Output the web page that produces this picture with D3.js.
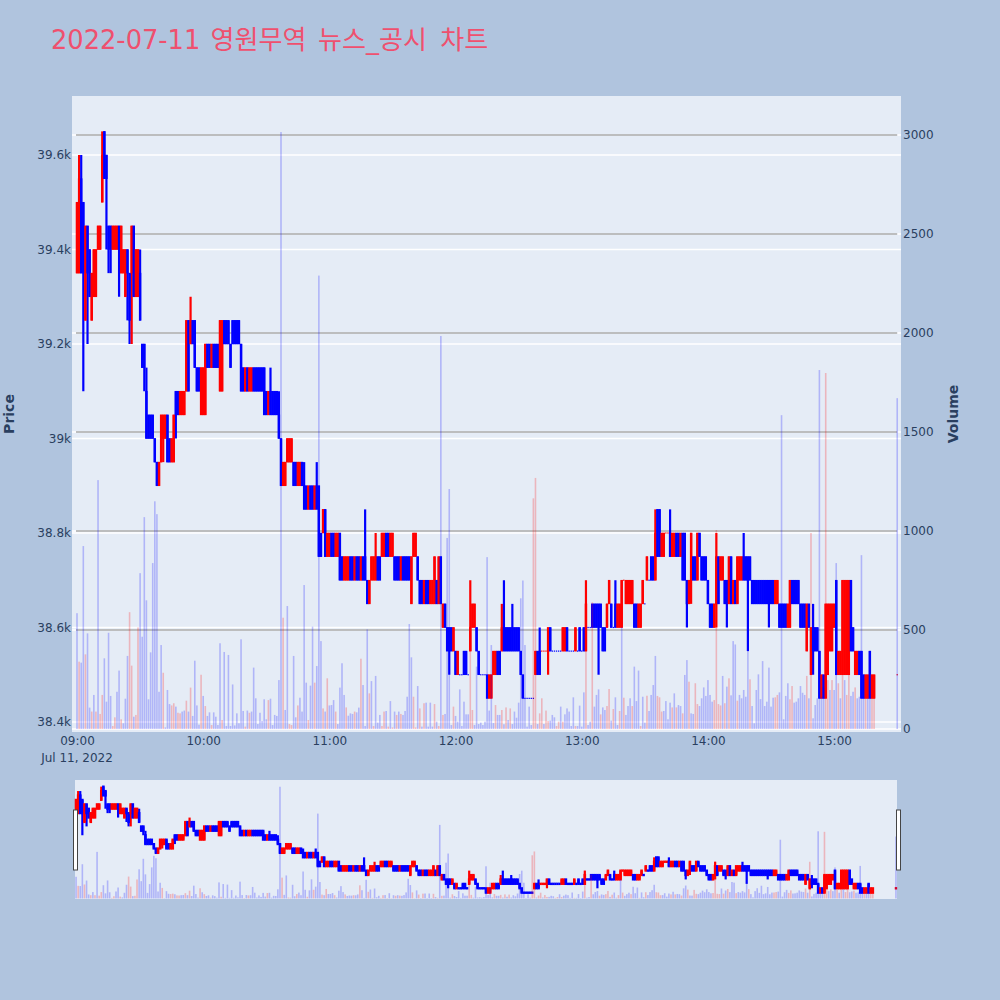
<!DOCTYPE html>
<html><head><meta charset="utf-8">
<script src="https://cdn.jsdelivr.net/npm/d3@7"></script>
<style>html,body{margin:0;padding:0;background:#B0C4DE}svg{display:block}text{font-family:"DejaVu Sans","Noto Sans CJK KR",sans-serif}</style>
</head><body><svg id="c" width="1000" height="1000"></svg>
<script>
const titleDate = "2022-07-11";
const titleWords = ["영원무역","뉴스_공시","차트"];
const titleWordGaps = [2,3,5];
const priceTicks = [38400,38600,38800,39000,39200,39400,39600];
const priceTickLabels = ["38.4k","38.6k","38.8k","39k","39.2k","39.4k","39.6k"];
const volumeTicks = [0,500,1000,1500,2000,2500,3000];
const greyLevels = [500,1000,1500,2000,2500,3000];
const gap = Array(10).fill(null);
const opens = [
39350,39350,39550,39500,39250,39450,39400,39250,39300,39300,39400,39400,39500,39650,39600,39450,39450,39400,39400,39400,
39450,39350,39350,39300,39400,39350,39350,39450,39300,39300,39350,39200,39200,39100,39050,39050,39050,39000,38950,38900,
38950,39000,39000,39050,39000,38950,38950,39100,39100,39050,39050,39050,39100,39250,39200,39250,39250,39150,39150,39050,
39050,39050,39200,39200,39150,39200,39200,39200,39100,39100,39250,39250,39250,39200,39250,39250,39250,39250,39200,39150,
39100,39150,39100,39100,39150,39150,39150,39150,39150,39150,39100,39050,39100,39100,39100,39100,39050,39000,38900,38900,
38950,38950,38950,38950,38950,38900,38900,38950,38900,38900,38850,38900,38900,38850,38900,38900,38800,38800,38850,38750,
38750,38800,38800,38750,38750,38800,38750,38700,38700,38700,38750,38750,38700,38750,38750,38700,38750,38750,38700,38650,
38700,38700,38700,38750,38750,38750,38750,38800,38800,38750,38750,38750,38750,38750,38700,38750,38750,38750,38750,38650,
38750,38750,38750,38700,38700,38650,38700,38700,38650,38650,38650,38700,38650,38750,38600,38650,38600,38600,38600,38550,
38550,38500,38500,38500,38550,38550,38500,38550,38600,38600,38600,38550,38500,38500,38500,38500,38450,38450,38500,38500,
38550,38550,38550,38600,38600,38600,38600,38600,38600,38600,38600,38550,38500,38450,38450,38450,38450,38450,38500,38550,
38550,38550,38550,38550,38550,38600,38550,38550,38550,38550,38550,38550,38550,38600,38550,38550,38550,38550,38550,38600,
38550,38600,38550,38600,38600,38650,38650,38650,38650,38650,38600,38600,38600,38650,38650,38600,38650,38600,38600,38600,
38700,38650,38650,38650,38650,38650,38650,38600,38600,38650,38650,38700,38700,38750,38750,38700,38850,38850,38750,38750,
38800,38800,38800,38750,38750,38800,38800,38750,38800,38800,38700,38650,38700,38750,38750,38700,38800,38750,38750,38750,
38700,38650,38650,38600,38650,38750,38700,38700,38700,38700,38650,38750,38650,38700,38650,38700,38700,38750,38750,38750,
38750,38700,38700,38700,38700,38700,38700,38700,38700,38700,38700,38700,38650,38650,38650,38650,38650,38650,38600,38600,
38700,38700,38700,38700,38650,38650,38650,38550,38650,38500,38600,38600,38600,38550,38450,38500,38450,38500,38550,38550,
38600,38700,38500,38500,38500,38500,38500,38500,38700,38600,38500,38500,38550,38550,38500,38450,38450,38550,38450,38450,
...gap,38500];
const closes = [
39500,39550,39350,39350,39450,39350,39300,39350,39400,39400,39450,39450,39600,39550,39550,39400,39400,39450,39450,39450,
39400,39450,39400,39400,39350,39250,39450,39300,39400,39400,39250,39150,39150,39000,39000,39000,39000,38950,38900,38950,
39050,39050,39050,38950,38950,39000,39050,39050,39050,39100,39100,39100,39250,39100,39250,39200,39150,39100,39100,39150,
39150,39200,39150,39150,39200,39150,39150,39150,39250,39250,39200,39200,39200,39150,39200,39200,39200,39200,39100,39100,
39150,39100,39150,39150,39100,39100,39100,39100,39100,39050,39050,39100,39050,39050,39050,39050,39000,38900,38950,38950,
39000,39000,39000,38900,38900,38950,38950,38900,38850,38850,38900,38850,38850,38900,38850,38750,38750,38850,38750,38800,
38800,38750,38750,38800,38800,38700,38700,38750,38750,38750,38700,38700,38750,38700,38700,38750,38700,38700,38650,38700,
38750,38750,38750,38700,38700,38800,38800,38750,38750,38800,38800,38700,38700,38700,38750,38700,38700,38700,38700,38750,
38800,38800,38700,38650,38650,38700,38650,38650,38700,38700,38750,38650,38750,38650,38650,38600,38550,38550,38550,38600,
38500,38550,38500,38500,38500,38500,38500,38600,38650,38650,38550,38500,38500,38500,38500,38450,38500,38500,38550,38550,
38500,38500,38600,38550,38550,38550,38550,38550,38550,38550,38550,38500,38450,38450,38450,38450,38450,38450,38550,38500,
38500,38550,38550,38550,38600,38550,38550,38550,38550,38550,38550,38600,38600,38550,38550,38550,38550,38600,38550,38550,
38550,38550,38650,38600,38600,38600,38600,38600,38600,38600,38550,38550,38650,38700,38600,38600,38600,38650,38650,38700,
38700,38700,38700,38700,38700,38600,38600,38650,38650,38700,38650,38750,38700,38700,38700,38800,38750,38750,38800,38800,
38800,38800,38750,38800,38800,38750,38750,38800,38700,38700,38650,38700,38800,38700,38700,38800,38750,38700,38700,38700,
38650,38600,38600,38650,38750,38650,38750,38750,38650,38650,38750,38650,38700,38650,38750,38750,38750,38700,38700,38700,
38700,38650,38650,38650,38650,38650,38650,38650,38650,38650,38650,38650,38700,38700,38600,38600,38600,38600,38650,38700,
38650,38650,38650,38650,38600,38600,38600,38650,38600,38600,38550,38550,38550,38450,38500,38450,38650,38650,38650,38650,
38650,38500,38550,38550,38700,38700,38700,38700,38550,38550,38550,38550,38500,38450,38450,38500,38500,38450,38500,38500,
...gap,38500];
const highMinutes = [1,2,12,30,33,54,92,96,108,114,137,142,187,202,203,207,220,242,256,275,282,304,317,350];
const highPrices = [39600,39600,39650,39400,39150,39300,39150,39100,38950,38950,38850,38800,38700,38650,38700,38650,38600,38700,38700,38850,38850,38800,38800,38650];
const lowMinutes = [3,5,14,15,16,20,24,25,26,32,41,47,177,224,248,290,292,304,309,319,329,350];
const lowPrices = [39100,39200,39400,39350,39350,39300,39250,39200,39200,39100,38950,39000,38500,38500,38500,38600,38650,38600,38600,38550,38600,38500];
const volumes = [
585,340,335,924,377,483,108,88,172,88,1257,76,172,357,138,486,167,15,59,188,
295,49,29,153,369,590,320,62,71,513,787,466,1070,650,150,387,838,1150,1085,188,
424,284,8,197,126,119,130,113,82,79,88,93,143,88,209,66,345,119,22,274,
167,116,66,84,20,84,62,20,433,45,389,15,374,15,225,18,79,29,453,91,
12,93,82,88,310,155,25,82,40,150,49,146,153,20,71,66,247,3015,562,96,
621,25,20,369,59,119,158,88,727,234,45,219,517,234,318,2290,444,104,88,256,
119,121,146,88,25,209,332,172,109,67,79,76,88,84,108,355,222,15,503,180,
242,15,268,32,71,15,88,91,12,141,8,88,71,88,76,71,91,163,530,362,
163,8,217,104,12,130,133,12,133,12,126,37,15,1985,71,76,965,1212,20,113,
66,37,200,15,138,74,74,520,96,20,315,25,32,20,37,868,93,424,30,121,
71,71,96,24,109,45,104,25,88,57,133,660,750,424,12,113,20,1165,1268,25,
79,155,25,93,40,42,71,59,15,37,113,37,74,104,88,15,160,15,15,118,
12,185,750,20,37,640,113,172,200,74,109,96,116,202,42,101,160,20,91,515,
158,71,116,155,116,315,141,295,15,163,32,168,91,172,222,369,167,160,88,91,
141,49,133,109,180,109,121,116,79,273,348,239,79,76,231,126,116,155,210,167,
247,172,138,146,1005,126,119,268,130,214,256,170,444,427,143,172,155,197,163,717,
251,116,29,197,276,151,343,116,138,310,113,158,160,172,185,1585,49,167,231,150,
217,133,138,155,217,183,172,268,155,990,54,121,155,1813,163,210,1798,247,197,247,
197,838,231,155,281,247,172,273,167,188,210,155,163,878,160,155,155,155,155,155,
...gap,1671];
const volumeColorCodes = (
"brbbrbbrbrbrrbbbbrrb"+"brbbbrrbrrbbbbbbbbbb"+"brbbbrrbrrbbrbrbbbbr"+"brbbrbbbbrbbbbbbbbbb"+
"rbrbbbbbbbbrbbbbbbrb"+"brrbbrbbbbrbbrbbbrbr"+"bbbrbbbbrbbbrbbrbbbr"+"brbbbrrbrbrbrbrbbbbb"+
"rrbrbrbbbbrbrbrbbbbr"+"bbbbbbbrrbbbbbbbbbbr"+"bbrbrbrbbbbbbbbbbrrb"+"rrbrrbbbrrbrbbbbbrbb"+
"bbrbbrbbbrbbrrbrbbrb"+"rbbbrbbbrbbrbbbbrrrb"+"bbbrbrbbrbbrbbrrbbbb"+"bbbrrrrbrbrbbbrbbbbb"+
"rbbbbbbbbbbbrrbbbbbr"+"rbbbbbbrbrbbbbbbrrbr"+"bbrbrbrrbbrbbbbrbbrr"+"bbbbbbbbbb"+"b").split("");

const n = opens.length;
const t0 = Date.UTC(2022,6,11,9,0);
const timeOf = m => new Date(t0 + m*60000);

const svg = d3.select("#c");
const paper = "#B0C4DE", plotBg = "#E5ECF6", ink = "#2a3f5f";
svg.append("rect").attr("width",1000).attr("height",1000).attr("fill",paper);

const x = d3.scaleUtc().domain([timeOf(-2.38), timeOf(391.8)]).range([72,901]);
const yP = d3.scaleLinear().domain([38378.8,39724.9]).range([732,96]);
const yV = d3.scaleLinear().domain([-15.2,3197]).range([732,96]);
const xS = d3.scaleUtc().domain([timeOf(-0.5), timeOf(390.5)]).range([75,897]);
const yPS = d3.scaleLinear().domain(yP.domain()).range([899,780]);
const yVS = d3.scaleLinear().domain(yV.domain()).range([899,780]);

const title = svg.append("text").attr("x",51).attr("y",49).attr("fill","#EF506E");
title.append("tspan").attr("font-size",25.7).text(titleDate);
titleWords.forEach((w,i)=>{
  title.append("tspan").attr("font-size",26.1).attr("dx",titleWordGaps[i]).text(" "+w);
});

svg.append("rect").attr("x",72).attr("y",96).attr("width",829).attr("height",636).attr("fill",plotBg);
svg.append("rect").attr("x",75).attr("y",780).attr("width",822).attr("height",119).attr("fill",plotBg);

const gGrid = svg.append("g");
gGrid.selectAll("line.p").data(priceTicks).join("line").attr("class","p").attr("x1",72).attr("x2",901)
  .attr("y1",d=>yP(d)).attr("y2",d=>yP(d)).attr("stroke","#fff").attr("stroke-width",1.6);
gGrid.selectAll("line.v").data(volumeTicks).join("line").attr("class","v").attr("x1",72).attr("x2",901)
  .attr("y1",d=>yV(d)).attr("y2",d=>yV(d)).attr("stroke","#fff").attr("stroke-width",1.6);
gGrid.selectAll("line.g").data(greyLevels).join("line").attr("class","g").attr("x1",x(timeOf(-0.5))).attr("x2",x(timeOf(390)))
  .attr("y1",d=>yV(d)).attr("y2",d=>yV(d)).attr("stroke","#808080").attr("stroke-width",1.1);

const dirs = [];
{ let last = "r", prev = null;
  for (let i=0;i<n;i++){ if(opens[i]==null){dirs.push(null);continue;}
    let d = closes[i]>opens[i]?"r":closes[i]<opens[i]?"b":(prev==null||closes[i]===prev?last:(closes[i]>prev?"r":"b"));
    dirs.push(d); last=d; prev=closes[i]; } }
const candleColor = {r:"#ff0000", b:"#0000ff"};
const highAt = i => { const k=highMinutes.indexOf(i); return k>=0?highPrices[k]:Math.max(opens[i],closes[i]); };
const lowAt = i => { const k=lowMinutes.indexOf(i); return k>=0?lowPrices[k]:Math.min(opens[i],closes[i]); };
const idx = d3.range(n).filter(i=>opens[i]!=null);

function traces(g, sx, py, vy, bodyW, wickW, pad, dojiW, dojiH){
  const gc = g.append("g");
  gc.selectAll("line").data(idx.filter(i=>highAt(i)!==lowAt(i))).join("line")
    .attr("x1",i=>sx(timeOf(i))).attr("x2",i=>sx(timeOf(i)))
    .attr("y1",i=>py(highAt(i))).attr("y2",i=>py(lowAt(i)))
    .attr("stroke",i=>candleColor[dirs[i]]).attr("stroke-width",wickW);
  gc.selectAll("rect").data(idx).join("rect")
    .attr("x",i=>sx(timeOf(i))-(opens[i]===closes[i]?dojiW/2:bodyW/2))
    .attr("width",i=>opens[i]===closes[i]?dojiW:bodyW)
    .attr("y",i=>py(Math.max(opens[i],closes[i]))-(opens[i]===closes[i]?dojiH/2:pad))
    .attr("height",i=>opens[i]===closes[i]?dojiH:Math.abs(py(opens[i])-py(closes[i]))+2*pad)
    .attr("fill",i=>candleColor[dirs[i]]);
  const gb = g.append("g");
  gb.selectAll("rect").data(idx).join("rect")
    .attr("x",i=>sx(timeOf(i))-0.8).attr("width",1.6)
    .attr("y",i=>vy(volumes[i])).attr("height",i=>vy(0)-vy(volumes[i]))
    .attr("fill",i=>volumeColorCodes[i]==="r"?"#ff0000":"#0000ff").attr("opacity",0.23);
}
traces(svg.append("g"), x, yP, yV, 2.4, 2.2, 0.3, 1.3, 1.2);
traces(svg.append("g"), xS, yPS, yVS, 2.6, 2.2, 1.1, 2.4, 2.4);

[[73.5,810],[896.5,810]].forEach(([hx,hy])=>{
  svg.append("rect").attr("x",hx).attr("y",hy).attr("width",4).attr("height",60)
    .attr("fill","#fff").attr("stroke","#444").attr("stroke-width",1);
});

function style(g){ g.select(".domain").remove(); g.selectAll("line").remove();
  g.selectAll("text").attr("fill",ink).attr("font-size",12).attr("font-family",'"DejaVu Sans",sans-serif'); }
svg.append("g").attr("transform","translate(72,0)")
  .call(d3.axisLeft(yP).tickValues(priceTicks).tickFormat((d,i)=>priceTickLabels[i]).tickPadding(1).tickSize(0)).call(style);
svg.append("g").attr("transform","translate(901,0)")
  .call(d3.axisRight(yV).tickValues(volumeTicks).tickFormat(d=>d).tickPadding(2).tickSize(0)).call(style);
svg.append("g").attr("transform","translate(0,732)")
  .call(d3.axisBottom(x).ticks(d3.utcHour.every(1)).tickFormat(d3.utcFormat("%H:%M")).tickPadding(4).tickSize(0)).call(style);
svg.append("text").attr("x",x(timeOf(0))).attr("y",762).attr("text-anchor","middle")
  .attr("font-size",12).attr("fill",ink).text("Jul 11, 2022");

svg.append("text").attr("transform","translate(14,414) rotate(-90)").attr("text-anchor","middle")
  .attr("font-size",14).attr("font-weight","bold").attr("fill",ink).text("Price");
svg.append("text").attr("transform","translate(958,414) rotate(-90)").attr("text-anchor","middle")
  .attr("font-size",14).attr("font-weight","bold").attr("fill",ink).text("Volume");
</script></body></html>
